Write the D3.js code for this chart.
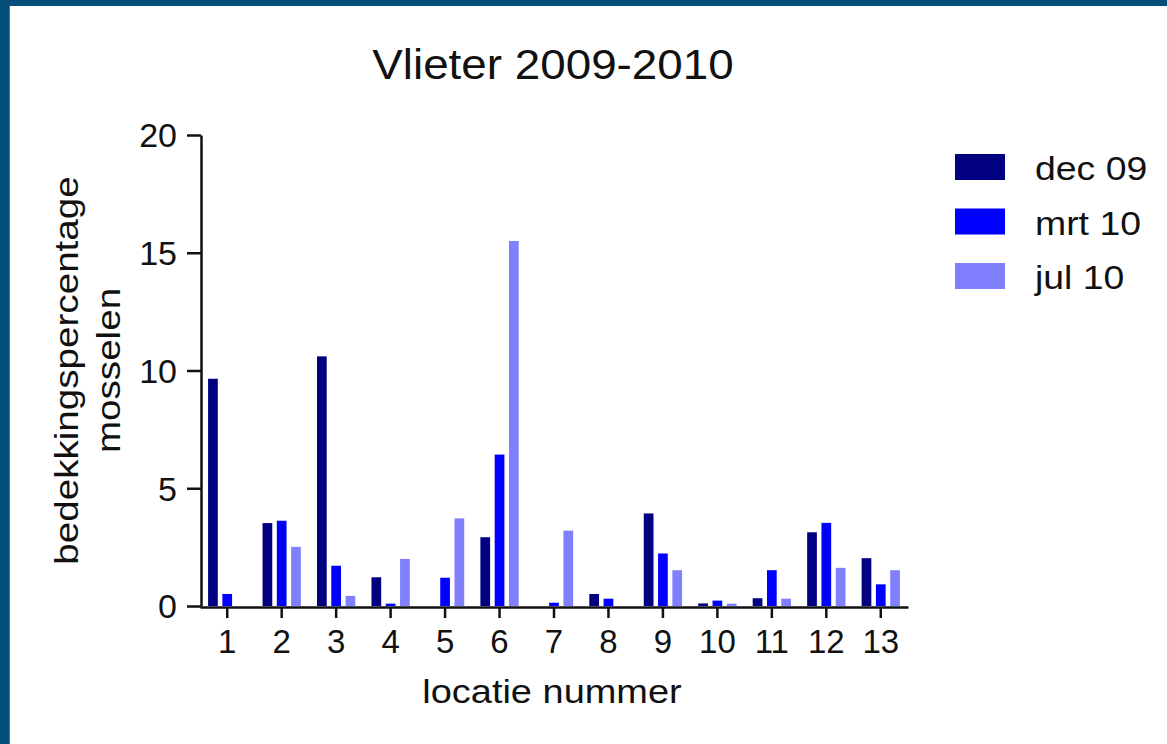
<!DOCTYPE html>
<html>
<head>
<meta charset="utf-8">
<script src="https://cdn.jsdelivr.net/npm/d3@7"></script>
<style>
  html, body { margin: 0; padding: 0; background: #ffffff; }
  svg { display: block; }
  text { font-family: "Liberation Sans", Arial, sans-serif; fill: #111111; }
</style>
</head>
<body>
<svg id="chart" width="1167" height="744"></svg>
<script>
const categories = ["1","2","3","4","5","6","7","8","9","10","11","12","13"];
const seriesNames = ["dec 09", "mrt 10", "jul 10"];
const dec09 = [9.65, 3.52, 10.6, 1.22, 0, 2.92, 0, 0.51, 3.93, 0.11, 0.33, 3.13, 2.03];
const mrt10 = [0.51, 3.62, 1.71, 0.1, 1.2, 6.43, 0.14, 0.31, 2.23, 0.23, 1.52, 3.53, 0.92];
const jul10 = [0, 2.51, 0.43, 2.0, 3.72, 15.5, 3.2, 0, 1.52, 0.1, 0.31, 1.62, 1.52];
const yTicks = [0, 5, 10, 15, 20];
const titleText = "Vlieter 2009-2010";
const xLabel = "locatie nummer";
const yLabelLines = ["bedekkingspercentage", "mosselen"];

const seriesValues = [dec09, mrt10, jul10];
const colors = ["#000080", "#0000ff", "#8080ff"];

const svg = d3.select("#chart");
const W = 1167, H = 744;

// frame
svg.append("rect").attr("x", 0).attr("y", 0).attr("width", W).attr("height", H).attr("fill", "#ffffff");
svg.append("rect").attr("x", 0).attr("y", 0).attr("width", W).attr("height", 6).attr("fill", "#054e7c");
svg.append("rect").attr("x", 0).attr("y", 0).attr("width", 9).attr("height", H).attr("fill", "#054e7c");
svg.append("rect").attr("x", 9).attr("y", 6).attr("width", 1).attr("height", H - 6).attr("fill", "#3a7aa6");

const plotLeft = 200, plotRight = 908, plotTop = 135, plotBottom = 606;

const x0 = d3.scaleBand().domain(categories).range([plotLeft, plotRight]).padding(0);
const groupW = 38.3;
const x1 = d3.scaleBand().domain(seriesNames).range([-groupW / 2, groupW / 2]).paddingInner(0.32).paddingOuter(0);
const y = d3.scaleLinear().domain([0, 20]).range([plotBottom, plotTop]);

function stretch(sel, k) {
  sel.each(function () {
    const len = this.getComputedTextLength();
    d3.select(this).attr("textLength", len * k).attr("lengthAdjust", "spacingAndGlyphs");
  });
}

// bars
const groups = svg.append("g").selectAll("g").data(categories).join("g")
  .attr("transform", d => `translate(${x0(d) + x0.bandwidth() / 2},0)`);
groups.selectAll("rect")
  .data((d, i) => seriesNames.map((s, j) => ({ s, j, v: seriesValues[j][i] })))
  .join("rect")
  .attr("x", d => x1(d.s))
  .attr("width", x1.bandwidth())
  .attr("y", d => y(d.v))
  .attr("height", d => y(0) - y(d.v))
  .attr("fill", d => colors[d.j]);

// y axis
const yAxis = svg.append("g").attr("transform", `translate(${plotLeft + 1},0)`)
  .call(d3.axisLeft(y).tickValues(yTicks).tickSize(14).tickSizeOuter(0).tickPadding(10));
yAxis.select(".domain").attr("stroke", "#111111").attr("stroke-width", 2.5);
yAxis.selectAll(".tick line").attr("stroke", "#111111").attr("stroke-width", 2.5);
yAxis.selectAll(".tick text").attr("font-size", 33).attr("fill", "#111111")
  .style("font-family", "Liberation Sans, Arial, sans-serif").attr("dy", "0.36em");
stretch(yAxis.selectAll(".tick text"), 1.03);

// x axis
const xAxis = svg.append("g").attr("transform", `translate(0,${plotBottom + 1})`)
  .call(d3.axisBottom(x0).tickSize(11).tickSizeOuter(0).tickPadding(12));
xAxis.select(".domain").attr("stroke", "#111111").attr("stroke-width", 2.5);
xAxis.selectAll(".tick text").attr("font-size", 33).attr("fill", "#111111")
  .style("font-family", "Liberation Sans, Arial, sans-serif");
xAxis.selectAll(".tick line").attr("stroke", "#111111").attr("stroke-width", 2.5);

// title
const title = svg.append("text").attr("x", 553).attr("y", 79)
  .attr("text-anchor", "middle").attr("font-size", 42).text(titleText);
stretch(title, 1.09);

// x label
const xl = svg.append("text").attr("x", 552).attr("y", 703)
  .attr("text-anchor", "middle").attr("font-size", 33).text(xLabel);
stretch(xl, 1.15);

// y label
const ylg = svg.append("g");
const ylPos = [78, 120];
yLabelLines.forEach((t, i) => {
  const tx = ylg.append("text").attr("transform", `translate(${ylPos[i]},${(plotTop + plotBottom) / 2}) rotate(-90)`)
    .attr("text-anchor", "middle").attr("font-size", 33).text(t);
  stretch(tx, 1.17);
});

// legend
const legend = svg.append("g").selectAll("g").data(seriesNames).join("g")
  .attr("transform", (d, i) => `translate(955,${154 + i * 54.5})`);
legend.append("rect").attr("width", 50).attr("height", 26).attr("fill", (d, i) => colors[i]);
const lt = legend.append("text").attr("x", 80).attr("y", 26).attr("font-size", 34).text(d => d);
stretch(lt, 1.1);
</script>
</body>
</html>
